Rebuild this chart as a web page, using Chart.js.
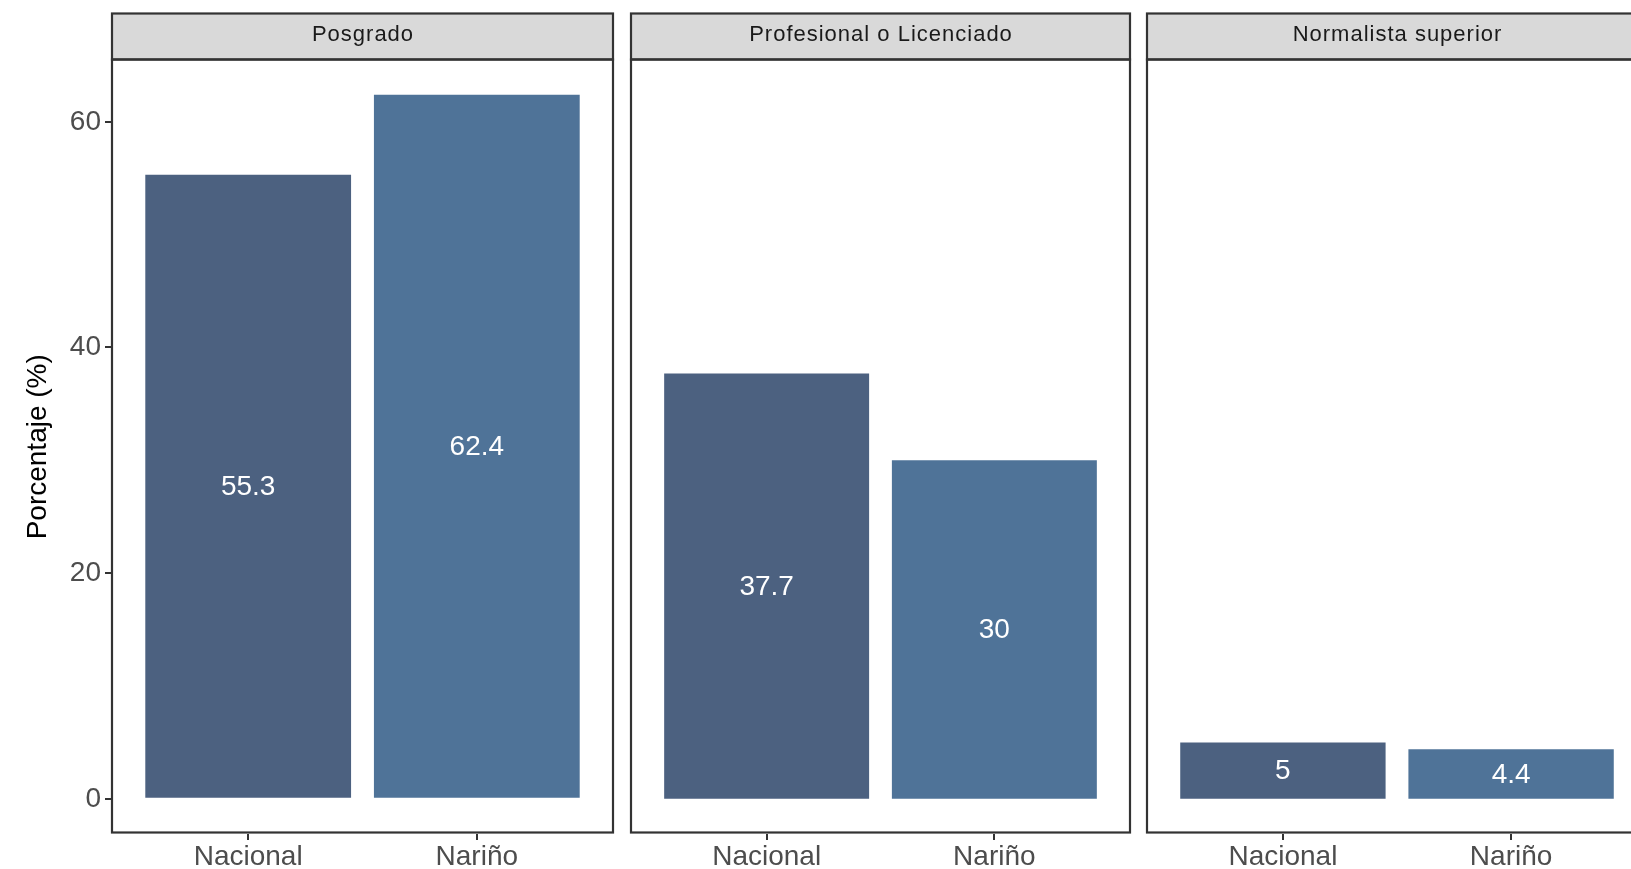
<!DOCTYPE html>
<html>
<head>
<meta charset="utf-8">
<script src="https://cdn.jsdelivr.net/npm/chart.js@4.4.1/dist/chart.umd.min.js"></script>
<style>
  html, body { margin: 0; padding: 0; background: #fff; overflow: hidden; }
  #wrap { position: relative; width: 1631px; height: 869px; overflow: hidden; }
  #wrap canvas { position: absolute; top: 0; }
</style>
</head>
<body>
<div id="wrap">
  <canvas id="panel0" width="620" height="869" style="left:0px"></canvas>
  <canvas id="panel1" width="513" height="869" style="left:624px"></canvas>
  <canvas id="panel2" width="514" height="869" style="left:1140px"></canvas>
</div>
<script>
// datos
const facets = ["Posgrado", "Profesional o Licenciado", "Normalista superior"];
const groups = ["Nacional", "Nariño"];
const nacional = [55.3, 37.7, 5];
const narino = [62.4, 30, 4.4];
const yTicks = [0, 20, 40, 60];

const COL_NAC = "#4c6180";
const COL_NAR = "#4f7398";
const AXIS = "#333333";
const FONT = "'Liberation Sans', Arial, sans-serif";
const STRIP_TOP = 13.5;
const PANEL_TOP = 59.5;

// expansion tipo ggplot (5%)
const maxVal = Math.max(...nacional, ...narino);
const yMin = -0.05 * maxVal;
const yMax = 1.05 * maxVal;

/** strip gris con titulo + borde del panel */
const facetFrame = {
    id: "facetFrame",
    beforeDraw(chart, args, opts) {
        const { ctx, chartArea: a } = chart;
        ctx.save();
        ctx.fillStyle = "#d9d9d9";
        ctx.fillRect(a.left, STRIP_TOP, a.right - a.left, a.top - STRIP_TOP);
        ctx.fillStyle = "#1a1a1a";
        ctx.font = "22px " + FONT;
        ctx.letterSpacing = "1px";
        ctx.textAlign = "center";
        ctx.textBaseline = "middle";
        ctx.fillText(opts.label, (a.left + a.right) / 2 + 0.5, (STRIP_TOP + a.top) / 2 - 1.5);
        ctx.restore();
    },
    afterDraw(chart) {
        const { ctx, chartArea: a } = chart;
        const l = a.left + 1, r = a.right - 1, b = a.bottom - 1.5;
        ctx.save();
        ctx.strokeStyle = AXIS;
        ctx.lineWidth = 2.2;
        ctx.strokeRect(l, STRIP_TOP, r - l, a.top - STRIP_TOP);
        ctx.strokeRect(l, a.top, r - l, b - a.top);
        ctx.restore();
    }
};

/** etiquetas blancas en el centro de cada barra */
const barLabels = {
    id: "barLabels",
    afterDatasetsDraw(chart) {
        const { ctx } = chart;
        const meta = chart.getDatasetMeta(0);
        ctx.save();
        ctx.fillStyle = "#ffffff";
        ctx.font = "28px " + FONT;
        ctx.textAlign = "center";
        ctx.textBaseline = "middle";
        meta.data.forEach((bar, i) => {
            const v = chart.data.datasets[0].data[i].y;
            ctx.fillText(String(v), bar.x, (bar.y + bar.base) / 2 + 1);
        });
        ctx.restore();
    }
};

function makePanel(i) {
    const first = i === 0;
    const values = [nacional[i], narino[i]];

    new Chart(document.getElementById("panel" + i), {
        type: "bar",
        data: {
            datasets: [{
                data: groups.map((g, k) => ({ x: k + 1, y: values[k] })),
                backgroundColor: [COL_NAC, COL_NAR],
                borderWidth: 0,
                categoryPercentage: 1,
                barPercentage: 0.9
            }]
        },
        options: {
            responsive: false,
            animation: false,
            devicePixelRatio: 1,
            layout: { padding: { top: PANEL_TOP, bottom: 0, left: first ? 0 : 6, right: 6 } },
            plugins: {
                legend: { display: false },
                tooltip: { enabled: false },
                title: { display: false },
                facetFrame: { label: facets[i] }
            },
            scales: {
                x: {
                    type: "linear",
                    min: 0.4,
                    max: 2.6,
                    offset: false,
                    afterBuildTicks: s => { s.ticks = groups.map((g, k) => ({ value: k + 1 })); },
                    afterFit: s => { s.height = 35; },
                    border: { display: false },
                    grid: { offset: false, drawOnChartArea: false, drawTicks: true, tickLength: 6, color: AXIS, lineWidth: 2 },
                    ticks: {
                        color: "#4d4d4d",
                        font: { family: FONT, size: 28 },
                        padding: 0,
                        maxRotation: 0,
                        autoSkip: false,
                        callback: v => groups[v - 1]
                    }
                },
                y: {
                    display: first,
                    min: yMin,
                    max: yMax,
                    afterBuildTicks: s => { s.ticks = yTicks.map(v => ({ value: v })); },
                    afterFit: s => { if (first) s.width = 111; },
                    border: { display: false },
                    grid: { drawOnChartArea: false, drawTicks: true, tickLength: 6, color: AXIS, lineWidth: 2 },
                    ticks: {
                        color: "#4d4d4d",
                        font: { family: FONT, size: 28 },
                        padding: 4
                    },
                    title: {
                        display: true,
                        text: "Porcentaje (%)",
                        color: "#000000",
                        font: { family: FONT, size: 28 },
                        padding: { top: 21, bottom: 0 }
                    }
                }
            }
        },
        plugins: [facetFrame, barLabels]
    });
}

facets.forEach((f, i) => makePanel(i));
</script>
</body>
</html>
